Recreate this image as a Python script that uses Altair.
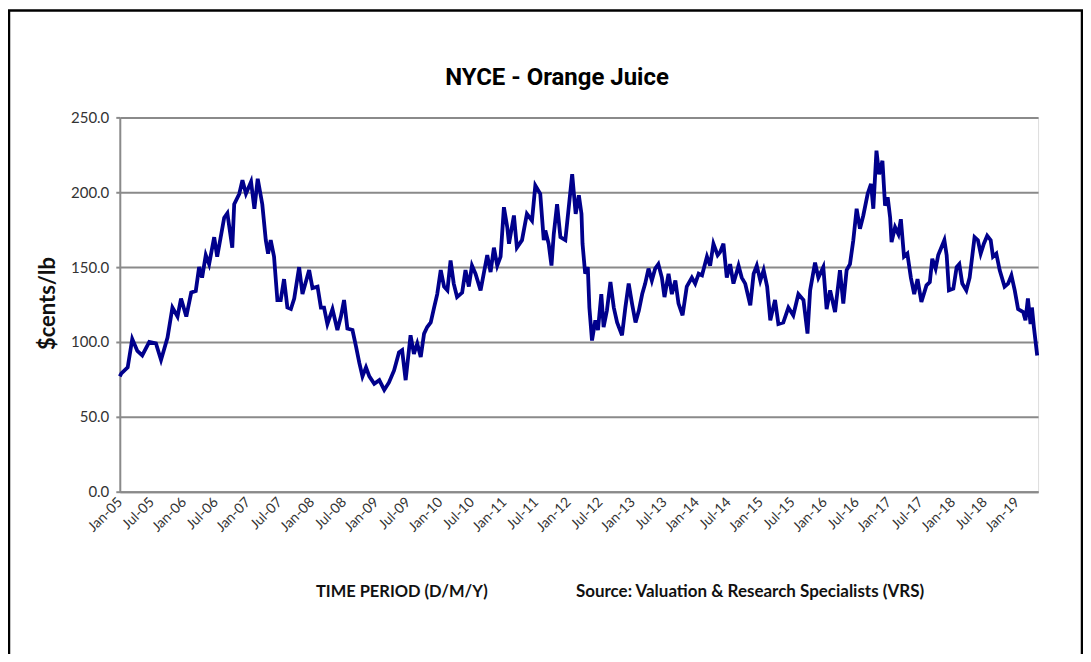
import altair as alt
import pandas as pd

dates = [
    "2005-01-01", "2005-01-10", "2005-02-15", "2005-03-13", "2005-04-11", "2005-05-09", "2005-06-18",
    "2005-07-26", "2005-08-24", "2005-09-30", "2005-10-28", "2005-11-26", "2005-12-16",
    "2006-01-15", "2006-02-12", "2006-03-10", "2006-03-29", "2006-04-15", "2006-05-06", "2006-05-25",
    "2006-06-23", "2006-07-10", "2006-08-19", "2006-09-06", "2006-10-04", "2006-10-15", "2006-11-13",
    "2006-12-01", "2006-12-21",
    "2007-01-19", "2007-02-07", "2007-02-26", "2007-03-24", "2007-04-13", "2007-04-26", "2007-05-11",
    "2007-05-30", "2007-06-18", "2007-07-07", "2007-07-26", "2007-08-14", "2007-09-03", "2007-09-22",
    "2007-10-20", "2007-11-08", "2007-12-16",
    "2008-01-04", "2008-02-02", "2008-02-21", "2008-03-10", "2008-03-29", "2008-04-27", "2008-05-25",
    "2008-06-14", "2008-07-02", "2008-07-21", "2008-08-19", "2008-09-08", "2008-09-27", "2008-10-15",
    "2008-11-04", "2008-11-23", "2008-12-21",
    "2009-01-19", "2009-02-16", "2009-03-15", "2009-04-13", "2009-05-11", "2009-05-29", "2009-06-18",
    "2009-07-16", "2009-08-04", "2009-08-23", "2009-09-12", "2009-10-01", "2009-10-19", "2009-11-08",
    "2009-11-27", "2009-12-15",
    "2010-01-04", "2010-01-23", "2010-02-11", "2010-03-01", "2010-03-19", "2010-04-07", "2010-05-06",
    "2010-05-25", "2010-06-13", "2010-07-01", "2010-07-21", "2010-08-19", "2010-09-26", "2010-10-15",
    "2010-11-03", "2010-11-22", "2010-12-11", "2010-12-30",
    "2011-01-18", "2011-01-28", "2011-02-25", "2011-03-14", "2011-04-12", "2011-05-10", "2011-06-08",
    "2011-06-27", "2011-07-25", "2011-08-14", "2011-08-23", "2011-09-11", "2011-09-27", "2011-10-10",
    "2011-10-29", "2011-11-17", "2011-12-15",
    "2012-01-23", "2012-02-12", "2012-03-01", "2012-03-16", "2012-03-22", "2012-04-06", "2012-04-21",
    "2012-04-30", "2012-05-15", "2012-06-03", "2012-06-18", "2012-07-07", "2012-07-20", "2012-08-08",
    "2012-08-28", "2012-09-16", "2012-10-05", "2012-11-02", "2012-11-21", "2012-12-10", "2012-12-29",
    "2013-01-18", "2013-02-06", "2013-02-25", "2013-03-14", "2013-04-02", "2013-04-21", "2013-05-10",
    "2013-05-28", "2013-06-17", "2013-07-02", "2013-07-25", "2013-08-13", "2013-09-02", "2013-09-20",
    "2013-10-13", "2013-11-06", "2013-12-05", "2013-12-24",
    "2014-01-13", "2014-02-01", "2014-03-01", "2014-03-19", "2014-04-07", "2014-05-01", "2014-05-15",
    "2014-06-03", "2014-06-22", "2014-07-11", "2014-07-30", "2014-08-28", "2014-09-15", "2014-10-05",
    "2014-11-03", "2014-11-22", "2014-12-10", "2014-12-30",
    "2015-01-18", "2015-02-07", "2015-02-25", "2015-03-24", "2015-04-12", "2015-05-10", "2015-06-08",
    "2015-07-06", "2015-08-04", "2015-09-02", "2015-09-25", "2015-10-10", "2015-11-07", "2015-11-26",
    "2015-12-24",
    "2016-01-12", "2016-02-01", "2016-02-29", "2016-03-28", "2016-04-16", "2016-05-05", "2016-05-24",
    "2016-06-12", "2016-07-01", "2016-07-20", "2016-08-08", "2016-09-02", "2016-09-21", "2016-10-04",
    "2016-10-22", "2016-11-06", "2016-11-25", "2016-12-10", "2016-12-25",
    "2017-01-08", "2017-01-16", "2017-02-05", "2017-02-24", "2017-03-10", "2017-03-28", "2017-04-16",
    "2017-05-06", "2017-05-25", "2017-06-13", "2017-07-05", "2017-08-03", "2017-08-22", "2017-09-05",
    "2017-09-24", "2017-10-09", "2017-11-13", "2017-11-26", "2017-12-09",
    "2018-01-03", "2018-01-22", "2018-02-06", "2018-02-23", "2018-03-18", "2018-04-06", "2018-05-04",
    "2018-05-23", "2018-06-08", "2018-06-26", "2018-07-15", "2018-08-04", "2018-08-17", "2018-09-05",
    "2018-09-24", "2018-10-22", "2018-11-11", "2018-11-30", "2018-12-19",
    "2019-01-07", "2019-02-05", "2019-02-18", "2019-03-04", "2019-03-19", "2019-03-27", "2019-04-07",
    "2019-04-26",
]

prices = [
    77, 79, 83, 102, 94, 91, 100,
    99, 88, 103, 123, 117, 129,
    117, 133, 134, 150, 143, 158, 152,
    170, 157, 183, 186, 163, 192, 199,
    208, 199,
    207, 189, 209, 192, 168, 159, 168,
    157, 128, 128, 142, 123, 122, 129,
    150, 132, 148,
    136, 137, 123, 123, 112, 122, 108,
    117, 128, 109, 108, 97, 86, 77,
    83, 77, 72,
    74.5, 68, 73, 81, 93, 94.5, 74.5,
    104.5, 92, 99, 90, 105.6, 110, 113,
    123, 132,
    148, 137, 134.5, 154.5, 139, 130, 133,
    148, 137, 151, 145.6, 134.5, 158, 146.7,
    163, 151, 157, 190,
    176.7, 165.6, 184.5, 163, 168, 185.6, 181,
    204.5, 199, 168, 174.5, 165.6, 151, 172,
    192, 170, 168,
    212, 185.6, 198, 185.6, 165.6, 145.6, 150,
    123, 101, 114.5, 108, 132, 110, 121,
    140, 123, 113, 104.5, 123, 139, 125.6,
    113, 121, 132, 139, 149, 141, 149,
    152, 143, 130, 145.6, 132, 141, 125.6,
    117.8, 137, 143, 139,
    145.6, 144.5, 157, 151, 165.6, 158, 160,
    165.6, 143, 152, 139, 151, 143, 139,
    124.5, 145.6, 151, 141,
    148, 137, 114.5, 128, 112, 113, 123,
    117.8, 132, 128, 105.6, 134.5, 153, 143,
    150,
    122, 134.5, 120, 148, 125.6, 148, 152,
    168, 189, 175.6, 184.5, 199, 205.6, 189,
    227.8, 212, 221, 191, 196.7,
    183, 166.7, 176.7, 172, 182, 157, 159,
    143, 132, 142, 126.7, 137.8, 140, 155.6,
    149, 158, 168, 158, 134.5,
    135.6, 150, 152, 139, 134.5, 143, 170,
    168, 159, 165.6, 171, 168, 157, 159,
    148, 137, 139, 144.5, 134.5,
    122, 120, 114.5, 129, 112, 123, 110,
    91,
]

y_ticks = [0, 50, 100, 150, 200, 250]
tick_years = list(range(2005, 2020))

title_text = "NYCE - Orange Juice"
y_title = "$cents/lb"
x_title = "TIME PERIOD (D/M/Y)"
source_text = "Source: Valuation & Research Specialists (VRS)"

df = pd.DataFrame({"date": dates, "price": prices})

x_values = []
for yr in tick_years:
    x_values.append(alt.DateTime(year=yr, month=1, date=1))
    if yr < 2019:
        x_values.append(alt.DateTime(year=yr, month=7, date=1))

body_font = "Lato"
title_font = "Roboto"
grid_col = "#8a8a8a"
text_col = "#333333"

line = alt.Chart(df).mark_line(color="#00008c", strokeWidth=3.8).encode(
    x=alt.X(
        "date:T",
        scale=alt.Scale(domain=[alt.DateTime(year=2005, month=1, date=1),
                                alt.DateTime(year=2019, month=5, date=1)]),
        axis=alt.Axis(
            values=x_values, format="%b-%y", labelAngle=-45, labelAlign="right",
            labelBaseline="middle", ticks=False, grid=False, labelPadding=8,
            labelOverlap=False, labelFont=body_font, labelFontSize=14, labelColor=text_col,
            domainColor=grid_col, domainWidth=2,
            title=x_title, titleAnchor="start", titleX=196, titleY=105,
            titleAlign="left", titleBaseline="alphabetic", titleFont=body_font,
            titleFontSize=16.5, titleFontWeight="bold", titleColor="#111111",
        ),
    ),
    y=alt.Y(
        "price:Q",
        scale=alt.Scale(domain=[0, 250], nice=False),
        axis=alt.Axis(
            values=y_ticks, format=".1f", grid=True, gridColor=grid_col, gridWidth=2,
            tickSize=4, tickColor=grid_col, tickWidth=2, labelPadding=7,
            labelFont=body_font, labelFontSize=15, labelColor=text_col,
            domainColor=grid_col, domainWidth=2,
            title=y_title, titleFont=body_font, titleFontSize=22,
            titleFontWeight="bold", titleColor="#111111",
            titleAngle=270, titleAlign="center", titleBaseline="bottom",
            titleX=-60, titleY=186,
        ),
    ),
)

one = pd.DataFrame({"a": [0]})

border = alt.Chart(one).mark_rect(
    fillOpacity=0, stroke="black", strokeWidth=2.5
).encode(
    x=alt.value(-111), x2=alt.value(964), y=alt.value(-107), y2=alt.value(600)
)

title_mark = alt.Chart(one).mark_text(
    text=title_text, font=title_font, fontSize=24, fontWeight="bold", color="black",
    align="center", baseline="alphabetic",
).encode(x=alt.value(438), y=alt.value(-32))

source_mark = alt.Chart(one).mark_text(
    text=source_text, font=body_font, fontSize=17, fontWeight="bold", color="#111111",
    align="left", baseline="alphabetic",
).encode(x=alt.value(457), y=alt.value(480))

chart = alt.layer(line, border, title_mark, source_mark).properties(
    width=920,
    height=375,
    padding={"left": 112, "top": 109, "right": 45, "bottom": 162},
    autosize=alt.AutoSizeParams(type="none"),
).configure_view(strokeWidth=0).configure(background="white")

chart.save("out.html", embed_options={"renderer": "svg", "actions": False})
